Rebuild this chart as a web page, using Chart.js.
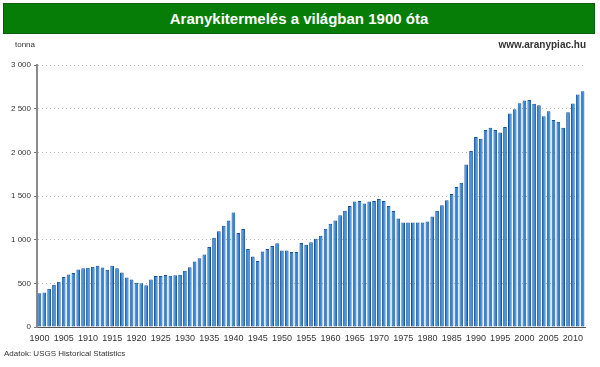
<!DOCTYPE html>
<html>
<head>
<meta charset="utf-8">
<script src="https://cdn.jsdelivr.net/npm/chart.js@4/dist/chart.umd.min.js"></script>
<style>
    body { margin: 0; background: #fff; font-family: "Liberation Sans", Arial, sans-serif; }
    .wrap { position: relative; width: 600px; height: 367px; overflow: hidden; }
    .titlebar {
        position: absolute; left: 3px; top: 3px; width: 590px; height: 29px;
        background: #067d06; border: 1px solid #0a5e0a;
        color: #fff; font-weight: bold; font-size: 15px; line-height: 29px; text-align: center;
    }
    .unit { position: absolute; left: 15px; top: 40px; font-size: 8px; color: #333; }
    .site { position: absolute; right: 14px; top: 39px; font-size: 10px; font-weight: bold; color: #333; }
    .source { position: absolute; left: 4px; top: 349px; font-size: 8px; color: #333; }
    canvas { position: absolute; left: 0; top: 0; }
</style>
</head>
<body>
<div class="wrap">
    <canvas id="goldChart" width="600" height="367"></canvas>
    <div class="titlebar">Aranykitermelés a világban 1900 óta</div>
    <div class="unit">tonna</div>
    <div class="site">www.aranypiac.hu</div>
    <div class="source">Adatok: USGS Historical Statistics</div>
</div>
<script>
    const firstYear = 1900;
    const lastYear = 2012;
    const years = Array.from({ length: lastYear - firstYear + 1 }, (_, i) => firstYear + i);
    const tickYears = [1900, 1905, 1910, 1915, 1920, 1925, 1930, 1935, 1940, 1945, 1950, 1955,
        1960, 1965, 1970, 1975, 1980, 1985, 1990, 1995, 2000, 2005, 2010];
    const yTicks = [0, 500, 1000, 1500, 2000, 2500, 3000];

    // tonnes per year
    const production = [
        386, 394, 439, 485, 519, 572, 602, 617, 659, 674,
        678, 689, 701, 682, 655, 701, 674, 625, 568, 545,
        508, 500, 477, 545, 583, 583, 595, 587, 592, 598,
        644, 685, 750, 788, 830, 917, 1023, 1095, 1159, 1220,
        1311, 1076, 1121, 894, 807, 757, 864, 894, 928, 958,
        875, 875, 860, 860, 962, 943, 970, 1011, 1045, 1125,
        1182, 1220, 1280, 1330, 1386, 1436, 1443, 1413, 1436, 1443,
        1466, 1443, 1386, 1329, 1242, 1197, 1197, 1197, 1197, 1197,
        1208, 1265, 1330, 1394, 1452, 1523, 1603, 1652, 1861, 2015,
        2175, 2156, 2255, 2281, 2255, 2228, 2289, 2445, 2494, 2562,
        2593, 2600, 2555, 2540, 2414, 2471, 2369, 2350, 2281, 2460,
        2559, 2661, 2700
    ];

    const fmt = v => v.toString().replace(/\B(?=(\d{3})+(?!\d))/g, ' ');

    const ctx = document.getElementById("goldChart").getContext("2d");
    new Chart(ctx, {
        type: "bar",
        data: {
            labels: years,
            datasets: [{
                label: "Aranykitermelés",
                data: production,
                backgroundColor: '#2f86d6',
                borderColor: '#17539c',
                borderWidth: 1,
                borderSkipped: false,
                categoryPercentage: 1,
                barPercentage: 0.76,
            }]
        },
        options: {
            responsive: false,
            animation: false,
            layout: { padding: { top: 65, right: 15, bottom: 18, left: 0 } },
            plugins: {
                legend: { display: false },
                tooltip: { enabled: false },
            },
            scales: {
                x: {
                    grid: { display: false, drawTicks: false },
                    border: { display: true, color: '#555', width: 1 },
                    ticks: {
                        autoSkip: false,
                        maxRotation: 0,
                        padding: 6,
                        color: '#333',
                        font: { family: 'Liberation Sans', size: 9 },
                        callback: (val, idx) => tickYears.includes(years[idx]) ? years[idx] : '',
                    },
                    afterFit: s => { s.height = 22; },
                },
                y: {
                    min: 0,
                    max: 3000,
                    afterBuildTicks: s => { s.ticks = yTicks.map(v => ({ value: v })); },
                    grid: {
                        color: '#b5b5b5',
                        lineWidth: 1,
                        drawTicks: true,
                        tickLength: 3,
                        tickColor: '#777',
                        tickBorderDash: [],
                    },
                    border: { display: true, color: '#8a8a8a', width: 2, dash: [1, 3] },
                    ticks: {
                        padding: 3,
                        color: '#333',
                        font: { family: 'Liberation Sans', size: 8 },
                        callback: v => fmt(v),
                    },
                    afterFit: s => { s.width = 37; },
                }
            }
        }
    });
</script>
</body>
</html>
